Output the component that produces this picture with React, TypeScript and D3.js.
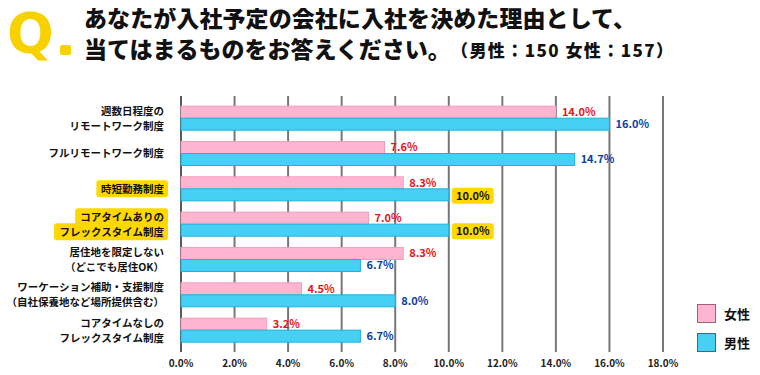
import React from "react";
import * as d3 from "d3";

const categories: string[][] = [
  ["週数日程度の", "リモートワーク制度"],
  ["フルリモートワーク制度"],
  ["時短勤務制度"],
  ["コアタイムありの", "フレックスタイム制度"],
  ["居住地を限定しない", "（どこでも居住OK）"],
  ["ワーケーション補助・支援制度", "（自社保養地など場所提供含む）"],
  ["コアタイムなしの", "フレックスタイム制度"],
];
const highlighted = [false, false, true, true, false, false, false];
const female = [14.0, 7.6, 8.3, 7.0, 8.3, 4.5, 3.2];
const male = [16.0, 14.7, 10.0, 10.0, 6.7, 8.0, 6.7];
const xTicks = [0, 2, 4, 6, 8, 10, 12, 14, 16, 18];
const seriesNames = ["女性", "男性"];
const titleLine1 = "あなたが入社予定の会社に入社を決めた理由として、";
const titleLine2 = "当てはまるものをお答えください。";
const titleNote = "（男性：150 女性：157）";

const FONT = "'Noto Sans CJK JP', 'Noto Sans', sans-serif";
const PINK = "#ffb5d0";
const PINK_STROKE = "#f59cbd";
const BLUE = "#45d0f4";
const BLUE_STROKE = "#1cb2e2";
const YELLOW = "#ffd800";

export default function App() {
  const W = 760, H = 375;
  const x = d3.scaleLinear().domain([0, 18]).range([181, 663]);
  const y = d3.scaleBand<number>().domain(d3.range(categories.length)).range([100.5, 347.8]).paddingInner(0.32).paddingOuter(0.16);
  const bh = y.bandwidth() / 2;

  return (
    <div style={{ margin: -8, width: W, height: H }}>
      <svg width={W} height={H} style={{ display: "block", fontFamily: FONT }}>
        <rect x={0} y={0} width={W} height={H} fill="#fff" />
        <rect x={1} y={1} width={W - 2} height={H - 2} fill="none" stroke="#fde3ee" strokeWidth={2} />
        {/* Title */}
        <text x={7} y={52} fontSize={55} fontWeight={900} fill="#f8d200" fontFamily="'DejaVu Sans', sans-serif">Q</text>
        <rect x={60} y={45} width={11} height={10} rx={2.5} fill="#f8d200" />
        <text x={84} y={27} fontSize={23} fontWeight={900} fill="#111" textLength={552} lengthAdjust="spacing">{titleLine1}</text>
        <text x={84} y={58} fontSize={23} fontWeight={900} fill="#111">{titleLine2}</text>
        <text x={451} y={57} fontSize={17} fontWeight={900} fill="#111" textLength={222} lengthAdjust="spacing">{titleNote}</text>
        {/* grid */}
        {xTicks.map((t) => (
          <line key={t} x1={x(t)} x2={x(t)} y1={96} y2={352} stroke={t === 0 ? "#222" : "#777"} strokeWidth={t === 0 ? 1.5 : 2} />
        ))}
        {xTicks.map((t) => (
          <text key={"t" + t} x={x(t)} y={367} fontSize={10} fontWeight={700} textAnchor="middle" fill="#222">{t.toFixed(1)}%</text>
        ))}
        {/* bars */}
        {categories.map((c, i) => {
          const y0 = y(i)!;
          const cy = y0 + bh;
          const lh = 15;
          const n = c.length;
          return (
            <g key={i}>
              <rect x={x(0)} y={y0} width={x(female[i]) - x(0)} height={bh} fill={PINK} stroke={PINK_STROKE} strokeWidth={1} />
              <rect x={x(0)} y={y0 + bh} width={x(male[i]) - x(0)} height={bh} fill={BLUE} stroke={BLUE_STROKE} strokeWidth={1} />
              <text x={x(female[i]) + 6} y={y0 + bh / 2 + 4} fontSize={11} fontWeight={700} fill="#e8141e">{female[i].toFixed(1)}%</text>
              {male[i] === 10 && highlighted[i] ? (
                <g>
                  <rect x={x(male[i]) + 3} y={y0 + bh - 1} width={42} height={16} rx={3} fill={YELLOW} />
                  <text x={x(male[i]) + 24} y={y0 + bh + 11} fontSize={11} fontWeight={700} fill="#111" textAnchor="middle">{male[i].toFixed(1)}%</text>
                </g>
              ) : (
                <text x={x(male[i]) + 6} y={y0 + bh * 1.5 + 4} fontSize={11} fontWeight={700} fill="#0a3ea6">{male[i].toFixed(1)}%</text>
              )}
              {c.map((line, j) => {
                const ly = cy + (j - (n - 1) / 2) * lh;
                const w = line.length * 10.6;
                return (
                  <g key={j}>
                    {highlighted[i] && (
                      <rect x={166 - w - 6} y={ly - 8.5} width={w + 8} height={17} rx={3} fill={YELLOW} />
                    )}
                    <text x={164} y={ly + 4} fontSize={10.5} fontWeight={700} fill="#111" textAnchor="end">{line}</text>
                  </g>
                );
              })}
            </g>
          );
        })}
        {/* legend */}
        {seriesNames.map((s, i) => (
          <g key={s}>
            <rect x={697.5} y={304.5 + i * 29} width={18} height={18} fill={i === 0 ? PINK : BLUE} stroke={i === 0 ? "#a0607a" : "#3a6a80"} strokeWidth={1} />
            <text x={724} y={319 + i * 29} fontSize={13} fontWeight={700} fill="#111">{s}</text>
          </g>
        ))}
      </svg>
    </div>
  );
}
